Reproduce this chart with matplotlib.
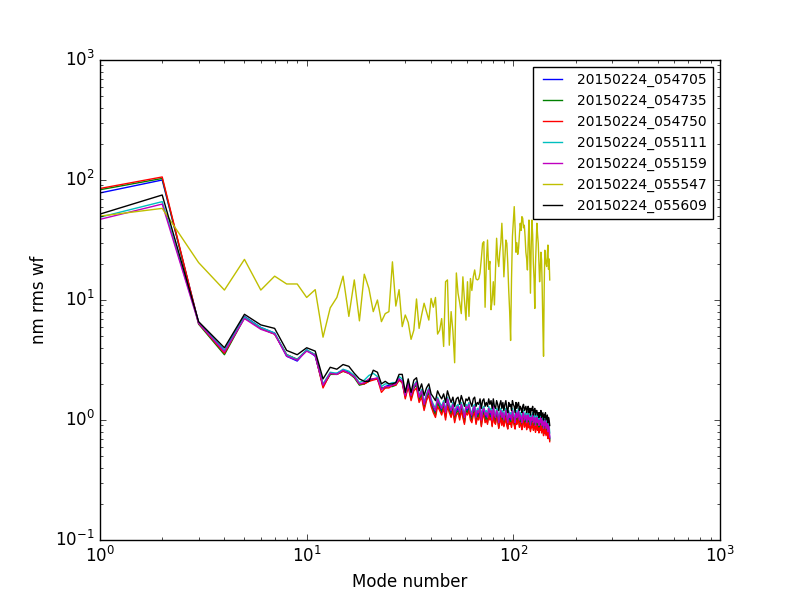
import matplotlib
matplotlib.use('Agg')
import matplotlib.pyplot as plt
import numpy as np

plt.style.use('classic')

modes = np.arange(1, 151)  # mode number

labels = ['20150224_054705', '20150224_054735', '20150224_054750',
          '20150224_055111', '20150224_055159', '20150224_055547',
          '20150224_055609']

rms_054705 = [78, 100, 6.5, 3.8, 7.3, 5.9, 5.3, 3.4, 3.1, 3.85,
    3.4, 1.95, 2.4, 2.45, 2.6, 2.5, 2.3, 2.0, 2.0, 2.15,
    2.2, 2.2, 1.8, 1.9, 1.95, 1.95, 2.0, 2.2, 2.1, 1.6,
    2.0, 1.55, 1.85, 2.0, 1.5, 1.7, 1.3, 1.55, 1.75, 1.4,
    1.25, 1.15, 1.45, 1.3, 1.2, 1.35, 1.1, 1.45, 1.25, 1.15,
    1.3, 1.05, 1.2, 1.25, 1.1, 1.3, 1.15, 1.0, 1.25, 1.2,
    1.3, 1.1, 1.05, 1.2, 1.25, 1.0, 1.15, 1.1, 1.25, 0.95,
    1.15, 1.2, 1.05, 1.1, 1.0, 1.2, 1.1, 1.15, 0.95, 1.25,
    1.05, 1.0, 1.15, 1.1, 0.9, 1.05, 1.15, 1.0, 1.1, 0.95,
    1.05, 1.15, 1.0, 0.9, 1.1, 1.0, 1.05, 0.95, 1.15, 1.05,
    1.0, 0.9, 1.1, 1.0, 1.05, 1.15, 0.95, 1.05, 1.0, 0.9,
    1.05, 1.1, 0.95, 1.0, 1.05, 0.9, 1.0, 1.05, 0.95, 1.0,
    0.86, 1.0, 0.95, 1.05, 0.9, 0.95, 1.0, 0.86, 0.95, 1.0,
    0.9, 0.95, 0.86, 0.95, 0.9, 1.0, 0.86, 0.9, 0.95, 0.8,
    0.9, 0.86, 0.95, 0.8, 0.86, 0.9, 0.76, 0.86, 0.8, 0.7]

rms_054735 = [83, 103, 6.3, 3.5, 7.1, 5.8, 5.2, 3.5, 3.2, 3.8,
    3.5, 1.9, 2.4, 2.4, 2.55, 2.45, 2.25, 1.95, 2.0, 2.1,
    2.2, 2.2, 1.85, 1.85, 1.9, 1.9, 1.95, 2.15, 2.05, 1.55,
    1.95, 1.5, 1.85, 1.95, 1.45, 1.65, 1.25, 1.5, 1.7, 1.35,
    1.2, 1.1, 1.4, 1.25, 1.15, 1.3, 1.05, 1.4, 1.2, 1.1,
    1.25, 1.0, 1.15, 1.2, 1.05, 1.25, 1.1, 0.95, 1.2, 1.15,
    1.25, 1.05, 1.0, 1.15, 1.2, 0.95, 1.1, 1.05, 1.2, 0.9,
    1.1, 1.15, 1.0, 1.05, 0.95, 1.15, 1.05, 1.1, 0.9, 1.2,
    1.0, 0.95, 1.1, 1.05, 0.86, 1.0, 1.1, 0.95, 1.05, 0.9,
    1.0, 1.1, 0.95, 0.86, 1.05, 0.95, 1.0, 0.9, 1.1, 1.0,
    0.95, 0.86, 1.05, 0.95, 1.0, 1.1, 0.9, 1.0, 0.95, 0.86,
    1.0, 1.05, 0.9, 0.95, 1.0, 0.86, 0.95, 1.0, 0.9, 0.95,
    0.82, 0.95, 0.9, 1.0, 0.86, 0.9, 0.95, 0.82, 0.9, 0.95,
    0.86, 0.9, 0.82, 0.9, 0.86, 0.95, 0.82, 0.86, 0.9, 0.76,
    0.86, 0.82, 0.9, 0.76, 0.82, 0.86, 0.72, 0.82, 0.76, 0.68]

rms_054750 = [85, 106, 6.4, 3.6, 7.2, 5.8, 5.2, 3.5, 3.2, 3.8,
    3.5, 1.85, 2.45, 2.4, 2.55, 2.45, 2.3, 2.0, 2.0, 2.1,
    2.15, 2.2, 1.7, 1.85, 1.85, 1.95, 1.95, 2.15, 2.05, 1.5,
    1.9, 1.45, 1.75, 1.85, 1.4, 1.55, 1.2, 1.45, 1.6, 1.3,
    1.15, 1.05, 1.3, 1.2, 1.1, 1.25, 1.0, 1.3, 1.15, 1.05,
    1.2, 0.95, 1.1, 1.15, 1.0, 1.2, 1.05, 0.92, 1.15, 1.1,
    1.2, 1.0, 0.95, 1.1, 1.15, 0.92, 1.05, 1.0, 1.15, 0.88,
    1.05, 1.1, 0.95, 1.0, 0.92, 1.1, 1.0, 1.05, 0.88, 1.1,
    0.95, 0.92, 1.05, 1.0, 0.85, 0.95, 1.05, 0.9, 1.0, 0.88,
    0.95, 1.05, 0.9, 0.84, 1.0, 0.92, 0.95, 0.87, 1.05, 0.95,
    0.9, 0.84, 1.0, 0.92, 0.95, 1.05, 0.87, 0.95, 0.9, 0.83,
    0.95, 1.0, 0.87, 0.9, 0.95, 0.83, 0.9, 0.95, 0.86, 0.9,
    0.8, 0.9, 0.86, 0.95, 0.82, 0.87, 0.9, 0.79, 0.86, 0.9,
    0.82, 0.86, 0.78, 0.86, 0.82, 0.9, 0.78, 0.82, 0.86, 0.74,
    0.82, 0.78, 0.86, 0.74, 0.78, 0.82, 0.7, 0.78, 0.74, 0.66]

rms_055111 = [49, 66, 6.5, 3.8, 7.2, 5.9, 5.3, 3.5, 3.2, 3.85,
    3.5, 2.0, 2.5, 2.45, 2.65, 2.55, 2.35, 2.05, 2.15, 2.35,
    2.45, 2.3, 1.9, 2.0, 2.0, 2.05, 2.05, 2.3, 2.2, 1.65,
    2.05, 1.65, 1.95, 2.1, 1.6, 1.8, 1.4, 1.65, 1.85, 1.5,
    1.35, 1.25, 1.55, 1.4, 1.3, 1.45, 1.2, 1.55, 1.35, 1.25,
    1.4, 1.15, 1.3, 1.35, 1.2, 1.4, 1.25, 1.1, 1.35, 1.3,
    1.4, 1.2, 1.15, 1.3, 1.35, 1.1, 1.25, 1.2, 1.35, 1.05,
    1.25, 1.3, 1.15, 1.2, 1.1, 1.3, 1.2, 1.25, 1.05, 1.35,
    1.15, 1.1, 1.25, 1.2, 1.0, 1.15, 1.25, 1.1, 1.2, 1.05,
    1.15, 1.25, 1.1, 1.0, 1.2, 1.1, 1.15, 1.05, 1.25, 1.15,
    1.1, 1.0, 1.2, 1.1, 1.15, 1.25, 1.05, 1.15, 1.1, 1.0,
    1.15, 1.2, 1.05, 1.1, 1.15, 1.0, 1.1, 1.15, 1.05, 1.1,
    0.95, 1.1, 1.05, 1.15, 1.0, 1.05, 1.1, 0.95, 1.05, 1.1,
    1.0, 1.05, 0.95, 1.05, 1.0, 1.1, 0.95, 1.0, 1.05, 0.9,
    1.0, 0.95, 1.05, 0.9, 0.95, 1.0, 0.85, 0.95, 0.9, 0.78]

rms_055159 = [47, 63, 6.4, 3.7, 7.0, 5.7, 5.2, 3.4, 3.15, 3.75,
    3.45, 1.95, 2.45, 2.4, 2.6, 2.45, 2.3, 2.0, 2.05, 2.2,
    2.2, 2.25, 1.8, 1.9, 1.9, 1.95, 2.0, 2.2, 2.1, 1.6,
    2.0, 1.6, 1.9, 2.05, 1.55, 1.75, 1.35, 1.6, 1.8, 1.45,
    1.3, 1.2, 1.5, 1.35, 1.25, 1.4, 1.15, 1.5, 1.3, 1.2,
    1.35, 1.1, 1.25, 1.3, 1.15, 1.35, 1.2, 1.05, 1.3, 1.25,
    1.35, 1.15, 1.1, 1.25, 1.3, 1.05, 1.2, 1.15, 1.3, 1.0,
    1.2, 1.25, 1.1, 1.15, 1.05, 1.25, 1.15, 1.2, 1.0, 1.3,
    1.1, 1.05, 1.2, 1.15, 0.95, 1.1, 1.2, 1.05, 1.15, 1.0,
    1.1, 1.2, 1.05, 0.95, 1.15, 1.05, 1.1, 1.0, 1.2, 1.1,
    1.05, 0.95, 1.15, 1.05, 1.1, 1.2, 1.0, 1.1, 1.05, 0.95,
    1.1, 1.15, 1.0, 1.05, 1.1, 0.95, 1.05, 1.1, 1.0, 1.05,
    0.9, 1.05, 1.0, 1.1, 0.95, 1.0, 1.05, 0.9, 1.0, 1.05,
    0.95, 1.0, 0.9, 1.0, 0.95, 1.05, 0.9, 0.95, 1.0, 0.85,
    0.95, 0.9, 1.0, 0.85, 0.9, 0.95, 0.8, 0.9, 0.85, 0.72]

rms_055547 = [50, 58, 20.5, 12.1, 21.8, 12.1, 15.8, 13.6, 13.6, 10.5,
    12.2, 4.9, 8.6, 10.5, 15.8, 7.3, 14.7, 6.7, 16.4, 12.5,
    8.0, 10.0, 6.6, 7.7, 8.0, 20.8, 8.9, 12.2, 6.0, 7.5,
    6.5, 4.7, 5.6, 10.2, 5.8, 7.5, 9.4, 8.0, 6.8, 10.3,
    8.7, 10.5, 5.2, 5.6, 7.0, 4.1, 14.2, 14.7, 4.2, 8.0,
    5.5, 3.0, 16.8, 11.4, 9.5, 7.7, 15.6, 10.0, 6.8, 14.2,
    7.3, 15.1, 12.0, 15.6, 17.8, 15.0, 14.7, 15.0, 16.8, 22.0,
    29.7, 30.6, 8.7, 20.0, 31.6, 18.0, 21.0, 8.3, 10.0, 14.2,
    9.1, 18.0, 32.7, 22.0, 19.0, 25.0, 30.0, 43.6, 28.0, 15.6,
    22.0, 31.6, 29.7, 20.0, 12.0, 8.0, 4.6, 15.0, 33.8, 45.0,
    60.0, 40.0, 25.0, 30.0, 24.0, 27.0, 35.0, 43.6, 38.0, 49.5,
    48.0, 40.0, 42.0, 33.8, 25.0, 22.0, 17.8, 30.0, 46.4, 25.0,
    11.4, 28.0, 46.4, 35.0, 20.0, 15.0, 8.5, 20.0, 30.0, 43.6,
    35.0, 29.7, 20.0, 14.2, 18.0, 25.0, 21.5, 12.0, 6.0, 3.4,
    12.0, 26.0, 22.0, 20.0, 19.0, 24.0, 28.7, 18.0, 22.0, 14.7]

rms_055609 = [52, 75, 6.6, 4.0, 7.6, 6.2, 5.8, 3.8, 3.5, 4.0,
    3.75, 2.2, 2.75, 2.65, 2.9, 2.8, 2.45, 2.2, 2.1, 2.1,
    2.6, 2.5, 2.0, 2.1, 2.0, 2.0, 2.05, 2.4, 2.4, 1.7,
    2.2, 1.7, 2.15, 2.25, 1.75, 2.0, 1.6, 1.85, 2.0, 1.65,
    1.55, 1.45, 1.75, 1.6, 1.5, 1.65, 1.4, 1.75, 1.55, 1.4,
    1.55, 1.3, 1.5, 1.55, 1.35, 1.6, 1.45, 1.3, 1.5, 1.45,
    1.55, 1.4, 1.3, 1.5, 1.55, 1.3, 1.4, 1.35, 1.5, 1.25,
    1.45, 1.5, 1.3, 1.4, 1.3, 1.5, 1.35, 1.45, 1.25, 1.5,
    1.3, 1.25, 1.45, 1.35, 1.2, 1.35, 1.45, 1.25, 1.4, 1.2,
    1.35, 1.45, 1.25, 1.15, 1.4, 1.3, 1.35, 1.2, 1.45, 1.35,
    1.3, 1.15, 1.4, 1.25, 1.35, 1.4, 1.2, 1.3, 1.25, 1.15,
    1.3, 1.35, 1.2, 1.25, 1.3, 1.15, 1.25, 1.3, 1.15, 1.25,
    1.1, 1.25, 1.2, 1.3, 1.1, 1.2, 1.25, 1.1, 1.2, 1.2,
    1.1, 1.15, 1.05, 1.15, 1.1, 1.2, 1.05, 1.1, 1.15, 1.0,
    1.1, 1.05, 1.15, 1.0, 1.05, 1.1, 0.95, 1.05, 1.0, 0.9]

series = [rms_054705, rms_054735, rms_054750, rms_055111,
          rms_055159, rms_055547, rms_055609]
colors = ['b', 'g', 'r', 'c', 'm', 'y', 'k']

fig = plt.figure(figsize=(8, 6), dpi=100)
ax = fig.add_subplot(111)

for vals, col, lab in zip(series, colors, labels):
    ax.loglog(modes, vals, col + '-', label=lab)

ax.set_xlim(1, 1000)
ax.set_ylim(0.1, 1000)
ax.legend(loc='upper right', fontsize=10)
plt.xlabel('Mode number')
plt.ylabel('nm rms wf')

fig.savefig('out.png', dpi=100, facecolor='white')
